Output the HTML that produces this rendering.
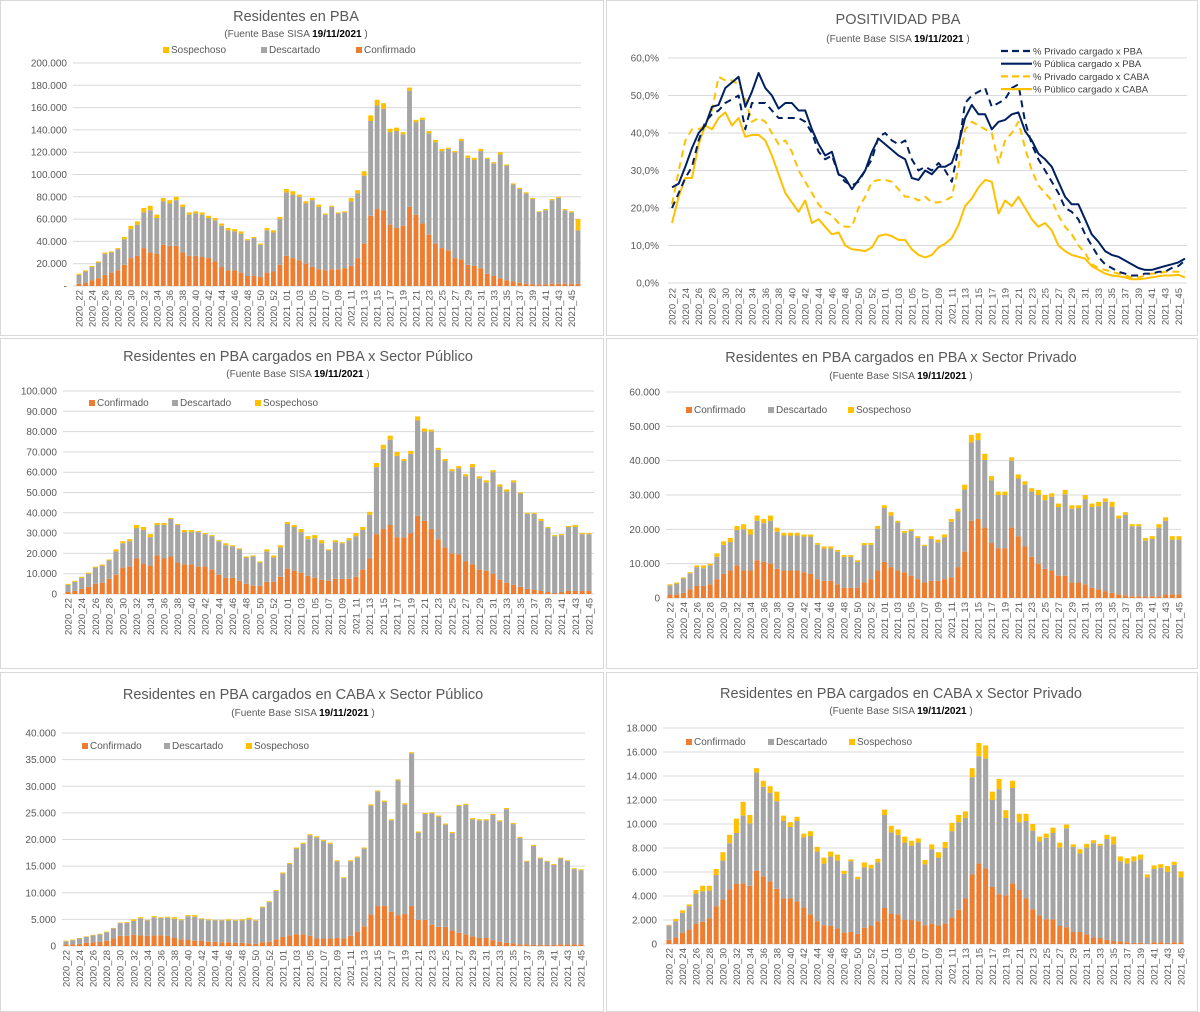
<!DOCTYPE html>
<html><head><meta charset="utf-8">
<style>
html,body{margin:0;padding:0;background:#fff;}
svg{display:block;font-family:"Liberation Sans",sans-serif;}
</style></head>
<body>
<svg id="s" width="1200" height="1012" viewBox="0 0 1200 1012" xmlns="http://www.w3.org/2000/svg">
<rect x="0.5" y="0.5" width="603" height="335" fill="#fff" stroke="#d9d9d9"/>
<rect x="606.5" y="0.5" width="591" height="335" fill="#fff" stroke="#d9d9d9"/>
<rect x="0.5" y="338.5" width="603" height="330" fill="#fff" stroke="#d9d9d9"/>
<rect x="606.5" y="338.5" width="591" height="330" fill="#fff" stroke="#d9d9d9"/>
<rect x="0.5" y="672.5" width="603" height="339" fill="#fff" stroke="#d9d9d9"/>
<rect x="606.5" y="672.5" width="591" height="339" fill="#fff" stroke="#d9d9d9"/>
</svg>
<script>
// ---------- data (thousands) ----------
const weeks = [];
for (let w = 22; w <= 53; w++) weeks.push('2020_' + w);
for (let w = 1; w <= 46; w++) weeks.push('2021_' + (w < 10 ? '0' + w : w));

const tot1 = [11,14,18,22,30,31,34,44,54,58,70,72,64,79,77,80,73,66,67,66,63,61,56,52,51,49,42,44,38,52,50,62,87,85,82,76,79,73,65,72,66,67,79,86,103,153,167,164,141,142,138,178,149,151,139,131,123,124,121,132,117,115,123,115,111,120,109,92,88,84,79,67,69,78,80,69,67,60];
const conf1 = [2,3,5,7,10,12,14,19,25,27,34,30,29,37,36,36,30,27,27,26,25,22,17,14,14,12,9,9,8,12,13,19,27,25,23,20,17,15,14,15,15,16,18,25,38,63,69,68,55,52,54,71,64,56,46,38,34,32,25,24,19,18,16,11,9,7,5,4,3,2,1.5,1.5,1.5,2,2,2,2,2];
const sosp1 = [1,1,1,1,1,1,1,2,3,3,4,4,3,3,3,3,2,2,2,2,2,2,2,2,2,2,1,1,1,2,2,2,3,3,2,2,2,2,1,1,1,1,3,3,4,5,5,5,3,3,2,3,2,2,2,2,2,1,1,2,2,2,2,1,1,2,1,1,1,1,1,0.5,1,1,1,1,1,10];

const tot3 = [5,6.5,8.5,10.5,13.5,14.5,17,22,26,27,34,33,29.5,35,35,37.5,34.5,31.5,31.5,31,30,29,26.5,25,24,22.5,18.5,19,16,22,19,24,35.5,34,32,28.5,29,26.5,22,26.5,25.5,27.5,30,33,40.5,64.5,73.5,78,70,66.5,70.5,87.5,81.5,81,72,66.5,61.5,63,59,64,58,56,61,54,51.5,56,50,40,40,37,33,29,29.5,33.5,34,30,30];
const conf3 = [1,1.5,2.5,3.5,5,5.5,7.5,9.5,13,13.5,17.5,15,14,19,17.5,18.5,15.5,14.5,14.5,13.5,13.5,12,9.5,8,8,6.5,5,4,4,6,6,8.5,12.5,11.5,10.5,9,8,7,6.5,7.5,7.5,7.5,8.5,12,17.5,29.5,32,34,28,28,30,38.5,36,32,27,23,20,19.5,16,14.5,12,11.5,10,7,5.5,4.5,3.5,2.5,2,1.5,1,0.5,1,1.5,1.5,1.5,1.5];
const sosp3 = [0.5,0.5,0.5,0.5,0.5,0.5,0.5,1,1,1,1.5,1.5,1.5,1,1,0.5,0.5,1,1,0.5,0.5,0.5,0.5,1,0.5,0.5,0.5,0.5,0.5,1,1,1,1,1,1.5,1.5,1.5,1.5,0.5,1,0.5,1,1.5,1.5,1.5,2,2,2,2,1,1.5,2,1.5,1,1,1,1,1,1,1.5,1,1,1,1,1,1,0.5,0.5,0.5,1,0.5,0.5,0.5,0.5,1,0.5,0.5];

const tot4 = [4,4.5,6,7.5,9.5,9.5,10,13,16.5,17.5,21,21.5,20,24,23,24,20.5,19,19,19,18.5,18.5,16,15,15,14,12.5,12.5,11,16,16,21,27,25,22.5,19.5,20,18,15.5,18,17,18.5,23,26,33,47.5,48,42,35.5,31,31,41,36,34,32,31.5,30,30.5,27.5,31.5,27,27,30,27.5,28,29,28,24,25,21.5,21.5,17.5,18,21.5,23.5,18,18];
const conf4 = [1,1,1.5,2.5,3.5,3.5,4,5.5,7,8,9.5,8,8,11,10.5,10,8.5,8,8,8,7.5,7,5.5,5,5,4,3,3,3,4.5,5.5,8,10.5,9,8,7.5,6.5,5.5,4.5,5,5,5.5,6,9,13.5,22.5,23,20.5,16,14.5,14.5,20.5,18,15,12,10,8.5,8,6.5,6.5,4.5,4.5,4,3,2.5,2,1.5,1,0.8,0.5,0.5,0.5,0.5,0.5,1,1,1];
const sosp4 = [0.3,0.3,0.3,0.3,0.5,0.8,0.5,1,1,1.2,1.2,1.5,1.5,1.5,1.2,1.5,1.2,0.8,0.8,0.8,0.6,0.6,0.5,0.6,0.6,0.5,0.5,0.5,0.5,0.6,0.5,0.8,0.8,1,0.5,0.5,0.5,0.5,0.3,0.8,0.8,0.8,0.8,0.8,1.4,2.2,2,1.8,1.2,1,1,1,1.2,1,1,1.5,1.5,1,1,1.3,1,0.8,1.2,1,1.3,1,1.4,0.8,0.8,0.6,0.6,0.8,0.8,1,1,1,1];

const tot5 = [1,1.2,1.5,1.8,2.1,2.3,2.7,3.4,4.4,4.5,5,5.4,4.9,5.6,5.4,5.5,5.4,5,5.8,5.8,5.2,5,4.9,4.9,5,4.9,5,5.3,4.9,7.4,8.4,10.5,13.8,15.6,18.5,19.4,21,20.6,19.9,19.4,16.1,12.9,16.1,16.8,18.5,26.6,29.2,27.3,23.8,31.3,26.8,36.4,21.5,25,25.1,24.5,23,21.4,26.5,26.7,24,23.8,23.8,24.8,23.6,25.9,23.1,20.5,16,19,16.6,16,15.4,16.6,16.1,14.6,14.4];
const conf5 = [0.3,0.3,0.4,0.6,0.7,0.8,1,1.4,1.9,1.9,2.1,2,1.9,2,2,1.9,1.5,1.2,1.2,1,1,0.8,0.8,0.7,0.7,0.6,0.6,0.5,0.4,0.7,0.8,1.2,1.7,2,2.2,2.2,1.9,1.4,1.4,1.4,1.5,1.4,1.9,2.7,3.7,5.9,7.5,7.5,6.4,5.8,6,7.5,4.9,4.9,4,3.6,3.6,2.9,2.5,2.2,1.8,1.5,1.5,1.1,0.8,0.6,0.5,0.3,0.3,0.2,0.2,0.2,0.2,0.3,0.3,0.3,0.3];
const sosp5 = [0.1,0.1,0.1,0.1,0.1,0.1,0.1,0.1,0.1,0.15,0.3,0.2,0.1,0.2,0.15,0.2,0.3,0.15,0.2,0.3,0.15,0.15,0.1,0.1,0.2,0.15,0.2,0.3,0.15,0.15,0.15,0.15,0.2,0.2,0.2,0.2,0.2,0.2,0.2,0.2,0.2,0.15,0.2,0.2,0.2,0.2,0.2,0.2,0.2,0.2,0.2,0.2,0.2,0.2,0.2,0.2,0.2,0.2,0.2,0.2,0.2,0.2,0.2,0.2,0.2,0.2,0.2,0.2,0.15,0.2,0.15,0.15,0.15,0.15,0.15,0.15,0.15];

const tot6 = [1.6,2.1,2.8,3.3,4.5,4.85,4.85,6.25,7.65,9.1,10.45,11.85,10.75,14.65,13.6,13.15,12.7,10.7,10.15,10.6,9.2,9.4,8.1,7.2,7.7,7.45,6.1,7.05,5.6,6.8,6.6,7.1,11.2,9.85,9.55,8.95,8.6,8.8,7,8.3,7.65,8.5,10.1,10.75,11.05,14.65,16.75,16.55,12.7,13.75,11.15,13.6,10.85,10.85,10,8.95,9.2,9.7,8.45,9.95,8.3,7.9,8.35,8.65,8.35,9.1,8.95,7.3,7.15,7.3,7.45,5.8,6.55,6.65,6.5,6.85,6.05];
const conf6 = [0.35,0.55,0.95,1.2,1.7,1.85,2.15,3.15,3.7,4.55,5,5.05,4.85,6.1,5.65,5.2,4.6,3.8,3.8,3.55,3.05,2.45,1.9,1.55,1.5,1.3,0.95,1,0.85,1.35,1.5,1.9,3,2.5,2.45,2,2,1.9,1.55,1.7,1.55,1.7,2.2,2.85,3.8,5.8,6.7,6.3,4.75,4.15,4.05,5.05,4.5,3.8,2.9,2.4,2.05,2.05,1.5,1.4,1,1,0.8,0.55,0.5,0.35,0.25,0.2,0.15,0.1,0.1,0.05,0.15,0.15,0.1,0.15,0.15];
const sosp6 = [0.05,0.2,0.2,0.15,0.3,0.45,0.4,0.5,0.7,0.7,1.2,1.15,0.7,0.35,0.5,0.55,0.8,0.45,0.4,0.35,0.3,0.4,0.4,0.5,0.4,0.5,0.25,0.15,0.2,0.4,0.3,0.3,0.45,0.55,0.45,0.5,0.4,0.35,0.35,0.4,0.45,0.5,0.7,0.6,0.55,0.75,1.1,1.1,0.7,0.85,0.65,0.6,0.7,0.6,0.55,0.4,0.35,0.45,0.4,0.3,0.2,0.35,0.3,0.25,0.15,0.35,0.65,0.4,0.45,0.4,0.4,0.25,0.3,0.3,0.5,0.25,0.5];

// positividad (%), 78 weeks
const privPBA = [20,24,28,31,38,43,45,46,48,49,50,41,48,48,48,46,44,44,44,44,43,40,35,33,34,29,27,26,27,30,33,39,40,38,37,38,33,30,31,30,32,30,27,36,48,50,51,52,47,48,49,52,53,43,37,33,30,27,24,20,19,17,13,10,7,5,4,3,2.5,2,2,2.5,2.5,3,3,4,4.5,6];
const pubPBA = [25.5,26.5,31,36,40,42,47,47.5,52,53.5,55,47,51,56,52,50,46.5,48,48,46,46,41,37,34,35,29,28,25,27.5,30,35,38.5,37,35.5,34,33,28,27.5,30,29,31,31,32,37,44,47.5,45,45,41,43,43.5,45,45.5,40.5,38,34.5,33,31,27,23,21,21,17,13,11,8.5,7.5,7,6,5,4,3.5,3.5,4,4.5,5,5.5,6.5];
const privCABA = [21,30,38,41,41,42,46,55,54,54,53,49,43,44,43,40,37,38,35,30,27,24,21,19,18,16,15,15,20,23,27,27.5,27.5,27,25,23,23,22,23,21.5,21.5,22,23,31,41,43,42,41,40,32,38,40,43,36,30,26,24,22,18,15,13,10,8,5,4,3.5,3,2.5,2,1.5,1.5,2,2.5,2.5,3,3,3,3];
const pubCABA = [16,23,28,28,37,42,41,44,45.5,42,44,39,39.5,39.5,38,34,29,24,21.5,19,22,16,17,15,13,13.5,10,9,8.8,8.5,9.5,12.5,13,12.5,11.5,11.5,9,7.5,6.8,7.5,9.5,10.5,12,15.5,20.5,22.5,25.5,27.5,27,18.5,22,20.5,23,20,17,15,16,14,10,8.5,7.5,7,6.5,4.5,3.5,2.5,2,1.8,1.5,1,1,1.2,1.5,1.8,2,2,2.2,1.5];

const pctTicks = ['0,0%','10,0%','20,0%','30,0%','40,0%','50,0%','60,0%'];

// ---------- drawing ----------
const NS = 'http://www.w3.org/2000/svg';
const svg = document.getElementById('s');
function mk(tag, attrs, parent) {
  const e = document.createElementNS(NS, tag);
  for (const k in attrs) e.setAttribute(k, attrs[k]);
  (parent || svg).appendChild(e);
  return e;
}
const C_CONF = '#ED7D31', C_DESC = '#A5A5A5', C_SOSP = '#FFC000', TXT = '#595959';

function titles(g, cx, ty, title, sy) {
  const t = mk('text', {x: cx, y: ty, 'text-anchor': 'middle', 'font-size': 14.5, fill: TXT}, g);
  
  
  t.textContent = title;
  const s = mk('text', {x: cx, y: sy, 'text-anchor': 'middle', 'font-size': 10, fill: TXT}, g);
  
  
  s.appendChild(document.createTextNode('(Fuente  Base SISA   '));
  const b = mk('tspan', {'font-weight': 'bold', fill: '#000'}, s);
  b.textContent = '19/11/2021';
  s.appendChild(document.createTextNode(' )'));
}

function legendItem(g, x, y, color, label) {
  const r = mk('rect', {x: x, y: y - 6, width: 6, height: 6, fill: color}, g);
  
  
  const t = mk('text', {x: x + 8, y: y, 'font-size': 10, fill: TXT}, g);
  
  
  t.textContent = label;
}

function barChart(o) {
  const g = mk('g', {});
  
  
  titles(g, o.cx, o.ty, o.title, o.sy);
  const n = o.tot.length;
  const yS = v => o.yBase - (v / o.max) * (o.yBase - o.yTop);
  const xS = i => o.x0 + i * (o.x1 - o.x0) / (n - 1);
  const bw = (o.x1 - o.x0) / (n - 1) * 0.75;
  for (let k = 0; k <= o.max / o.step; k++) {
    const v = k * o.step, y = yS(v);
    const l = mk('line', {x1: o.gl, x2: o.gr, y1: y, y2: y, stroke: '#d9d9d9', 'stroke-width': 1}, g);
    
    
    const t = mk('text', {x: o.gl - 6, y: y + 3.5, 'text-anchor': 'end', 'font-size': 10, fill: TXT}, g);
    
    
    t.textContent = v === 0 ? o.zero : v + '.000';
  }
  for (let i = 0; i < n; i++) {
    const x = xS(i) - bw / 2;
    const c = o.conf[i], s = o.sosp[i], d = Math.max(0, o.tot[i] - c - s);
    const segs = [[0, c, C_CONF, 'bar-confirmado'], [c, c + d, C_DESC, 'bar-descartado'], [c + d, c + d + s, C_SOSP, 'bar-sospechoso']];
    for (const sg of segs) {
      const r = mk('rect', {x: x, width: bw, y: yS(sg[1]), height: Math.max(0, yS(sg[0]) - yS(sg[1])), fill: sg[2]}, g);
      
      
    }
    if (i % 2 === 0) {
      const xc = xS(i) + 3.5, yy = o.yBase + 4;
      const t = mk('text', {x: xc, y: yy, 'text-anchor': 'end', 'font-size': 9.5, fill: TXT, transform: 'rotate(-90 ' + xc + ' ' + yy + ')'}, g);
      
      
      t.textContent = weeks[i];
    }
  }
  for (const L of o.legend) legendItem(g, L[0], o.ly, L[1], L[2]);
}

barChart({name: 'chart-residentes-pba', title: 'Residentes en PBA', cx: 296, ty: 21, sy: 37,
  tot: tot1, conf: conf1, sosp: sosp1, x0: 79, x1: 578, yTop: 63, yBase: 286, max: 200, step: 20, gl: 73, gr: 581, zero: '-',
  ly: 53, legend: [[163, C_SOSP, 'Sospechoso'], [261, C_DESC, 'Descartado'], [356, C_CONF, 'Confirmado']]});
barChart({name: 'chart-pba-publico', title: 'Residentes en PBA cargados en PBA x Sector Público', cx: 298, ty: 361, sy: 377,
  tot: tot3, conf: conf3, sosp: sosp3, x0: 68, x1: 589, yTop: 391, yBase: 594, max: 100, step: 10, gl: 63, gr: 594, zero: '0',
  ly: 406, legend: [[89, C_CONF, 'Confirmado'], [172, C_DESC, 'Descartado'], [255, C_SOSP, 'Sospechoso']]});
barChart({name: 'chart-pba-privado', title: 'Residentes en PBA cargados en PBA x Sector Privado', cx: 901, ty: 362, sy: 379,
  tot: tot4, conf: conf4, sosp: sosp4, x0: 670, x1: 1179, yTop: 392, yBase: 598, max: 60, step: 10, gl: 666, gr: 1181, zero: '0',
  ly: 413, legend: [[686, C_CONF, 'Confirmado'], [768, C_DESC, 'Descartado'], [848, C_SOSP, 'Sospechoso']]});
barChart({name: 'chart-caba-publico', title: 'Residentes en PBA cargados en CABA x Sector Público', cx: 303, ty: 699, sy: 716,
  tot: tot5, conf: conf5, sosp: sosp5, x0: 66, x1: 581, yTop: 733, yBase: 946, max: 40, step: 5, gl: 62, gr: 585, zero: '0',
  ly: 749, legend: [[82, C_CONF, 'Confirmado'], [164, C_DESC, 'Descartado'], [246, C_SOSP, 'Sospechoso']]});
barChart({name: 'chart-caba-privado', title: 'Residentes en PBA cargados en CABA x Sector Privado', cx: 901, ty: 698, sy: 714,
  tot: tot6, conf: conf6, sosp: sosp6, x0: 669, x1: 1181, yTop: 728, yBase: 944, max: 18, step: 2, gl: 663, gr: 1184, zero: '0',
  ly: 745, legend: [[686, C_CONF, 'Confirmado'], [768, C_DESC, 'Descartado'], [849, C_SOSP, 'Sospechoso']]});

// line chart
(function () {
  const g = mk('g', {});
  
  
  titles(g, 898, 24, 'POSITIVIDAD PBA', 42);
  const yTop = 58, yBase = 283, x0 = 672, x1 = 1185, gl = 668, gr = 1187;
  const n = pubPBA.length;
  const yS = v => yBase - v / 60 * (yBase - yTop);
  const xS = i => x0 + i * (x1 - x0) / (n - 1);
  pctTicks.forEach((lab, k) => {
    const y = yS(k * 10);
    const l = mk('line', {x1: gl, x2: gr, y1: y, y2: y, stroke: '#d9d9d9'}, g);
    
    
    const t = mk('text', {x: gl - 9, y: y + 3.5, 'text-anchor': 'end', 'font-size': 10, fill: TXT}, g);
    
    
    t.textContent = lab;
  });
  for (let i = 0; i < n; i += 2) {
    const xc = xS(i) + 3.5, yy = yBase + 5;
    const t = mk('text', {x: xc, y: yy, 'text-anchor': 'end', 'font-size': 9.5, fill: TXT, transform: 'rotate(-90 ' + xc + ' ' + yy + ')'}, g);
    
    
    t.textContent = weeks[i];
  }
  const series = [
    [pubCABA, '#FFC000', '', 'line-publico-caba'],
    [privCABA, '#FFC000', '7 5', 'line-privado-caba'],
    [privPBA, '#002060', '7 5', 'line-privado-pba'],
    [pubPBA, '#002060', '', 'line-publica-pba']
  ];
  for (const s of series) {
    const d = s[0].map((v, i) => (i ? 'L' : 'M') + xS(i).toFixed(1) + ' ' + yS(v).toFixed(1)).join(' ');
    const p = mk('path', {d: d, fill: 'none', stroke: s[1], 'stroke-width': 2, 'stroke-dasharray': s[2] || 'none', 'stroke-linejoin': 'round'}, g);
    
    
  }
  const leg = [['% Privado cargado x PBA', '#002060', '7 4'], ['% Pública cargado x PBA', '#002060', ''], ['% Privado cargado x CABA', '#FFC000', '7 4'], ['% Público cargado x CABA', '#FFC000', '']];
  leg.forEach((L, k) => {
    const y = 51 + k * 12.7;
    const l = mk('line', {x1: 1001, x2: 1032, y1: y, y2: y, stroke: L[1], 'stroke-width': 2.2, 'stroke-dasharray': L[2] || 'none'}, g);
    
    
    const t = mk('text', {x: 1033, y: y + 3.5, 'font-size': 9.5, fill: '#404040'}, g);
    
    
    t.textContent = L[0];
  });
})();
</script>
</body></html>
